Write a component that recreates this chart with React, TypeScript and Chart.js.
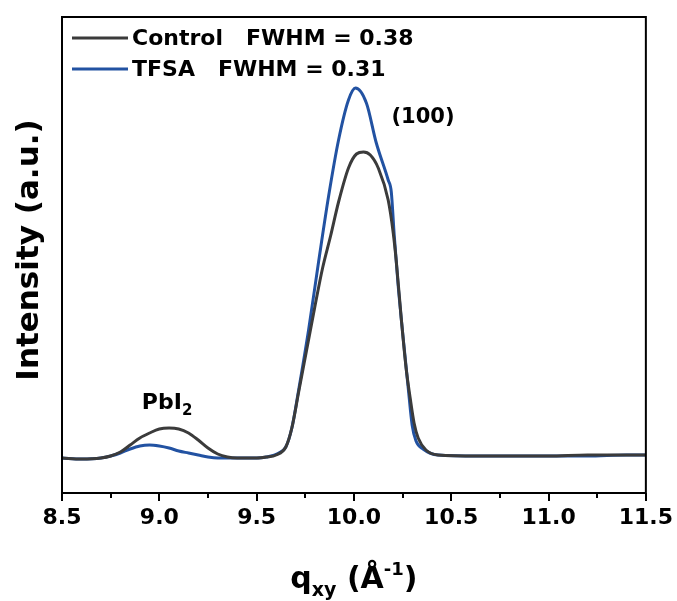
import React, { useEffect, useRef } from 'react';
import { Chart, registerables } from 'chart.js';

Chart.register(...registerables);

// ---- data ----
const controlQ = [8.5, 8.6, 8.7, 8.75, 8.8, 8.85, 8.9, 8.95, 9.0, 9.05, 9.1, 9.15, 9.2, 9.25, 9.3, 9.35, 9.4, 9.5, 9.55, 9.6, 9.65, 9.681, 9.716, 9.757, 9.798, 9.839, 9.88, 9.921, 9.972, 10.013, 10.049, 10.084, 10.125, 10.176, 10.202, 10.217, 10.243, 10.268, 10.289, 10.309, 10.33, 10.37, 10.432, 10.636, 10.8, 11.0, 11.2, 11.4, 11.5];
const controlI = [35, 34, 35, 37, 41, 48, 55, 60, 64, 65, 64, 60, 53, 45, 39, 36, 35, 35, 36, 38, 46, 65, 101, 143, 185, 225, 257, 291, 325, 339, 341, 338, 325, 293, 260, 233, 175, 125, 95, 70, 55, 43, 38, 37, 37, 37, 38, 38, 38];

const tfsaQ = [8.5, 8.6, 8.7, 8.75, 8.8, 8.85, 8.9, 8.95, 9.0, 9.05, 9.1, 9.15, 9.2, 9.25, 9.3, 9.4, 9.5, 9.55, 9.614, 9.65, 9.681, 9.716, 9.767, 9.819, 9.87, 9.921, 9.972, 10.008, 10.064, 10.115, 10.176, 10.192, 10.207, 10.227, 10.253, 10.279, 10.299, 10.319, 10.355, 10.432, 10.636, 10.8, 11.0, 11.2, 11.4, 11.5];
const tfsaI = [35, 34, 35, 37, 40, 44, 47, 48, 47, 45, 42, 40, 38, 36, 35, 35, 35, 36, 40, 46, 65, 103, 163, 232, 297, 353, 393, 405, 390, 350, 313, 301, 258, 208, 155, 105, 68, 52, 44, 38, 37, 37, 37, 37, 38, 38];

const seriesNames = ['Control   FWHM = 0.38', 'TFSA   FWHM = 0.31'];
const seriesColors = ['#3b3b3b', '#2252a2'];
const minorTicks = [8.75, 9.25, 9.75, 10.25, 10.75, 11.25];
const xMin = 8.5;
const xMax = 11.5;
const yMin = 0;
const yMax = 476;

const FONT = '"DejaVu Sans", sans-serif';

const decor = {
  id: 'decor',
  afterDraw(chart: any) {
    const { ctx, chartArea: a, scales } = chart;
    const xs = scales.x;
    const ys = scales.y;
    ctx.save();
    // frame
    ctx.strokeStyle = '#000';
    ctx.lineWidth = 2;
    ctx.strokeRect(a.left, a.top, a.right - a.left, a.bottom - a.top);
    // minor ticks
    ctx.lineWidth = 2;
    for (const v of minorTicks) {
      const px = Math.round(xs.getPixelForValue(v));
      ctx.beginPath();
      ctx.moveTo(px, a.bottom);
      ctx.lineTo(px, a.bottom + 5);
      ctx.stroke();
    }
    // legend
    ctx.font = `bold 22px ${FONT}`;
    ctx.textBaseline = 'middle';
    ctx.textAlign = 'left';
    seriesNames.forEach((name, i) => {
      const y = a.top + 21 + i * 31;
      ctx.strokeStyle = seriesColors[i];
      ctx.lineWidth = 3;
      ctx.beginPath();
      ctx.moveTo(a.left + 10, y);
      ctx.lineTo(a.left + 66, y);
      ctx.stroke();
      ctx.fillStyle = '#000';
      ctx.fillText(name, a.left + 70, y + 1);
    });
    // annotations
    ctx.fillStyle = '#000';
    ctx.textAlign = 'center';
    ctx.font = `bold 21px ${FONT}`;
    ctx.fillText('(100)', xs.getPixelForValue(10.355), ys.getPixelForValue(375));
    // PbI2
    {
      const cx = xs.getPixelForValue(9.04);
      const cy = ys.getPixelForValue(90);
      ctx.font = `bold 22px ${FONT}`;
      const w1 = ctx.measureText('PbI').width;
      ctx.font = `bold 15px ${FONT}`;
      const w2 = ctx.measureText('2').width;
      const x0 = cx - (w1 + w2) / 2;
      ctx.textAlign = 'left';
      ctx.font = `bold 22px ${FONT}`;
      ctx.fillText('PbI', x0, cy);
      ctx.font = `bold 15px ${FONT}`;
      ctx.fillText('2', x0 + w1, cy + 8);
    }
    // y title
    ctx.save();
    ctx.translate(30, 250);
    ctx.rotate(-Math.PI / 2);
    ctx.textAlign = 'center';
    ctx.textBaseline = 'middle';
    ctx.font = `bold 31px ${FONT}`;
    ctx.fillText('Intensity (a.u.)', 0, 0);
    ctx.restore();
    // x title
    const parts = [
      { t: 'q', s: 30, dy: 0 },
      { t: 'xy', s: 19, dy: 8 },
      { t: ' (Å', s: 30, dy: 0 },
      { t: '-1', s: 18, dy: -13 },
      { t: ')', s: 30, dy: 0 },
    ];
    let total = 0;
    const widths = parts.map((p) => {
      ctx.font = `bold ${p.s}px ${FONT}`;
      const w = ctx.measureText(p.t).width;
      total += w;
      return w;
    });
    let x = (a.left + a.right) / 2 - total / 2;
    const base = 588;
    ctx.textAlign = 'left';
    ctx.textBaseline = 'alphabetic';
    parts.forEach((p, i) => {
      ctx.font = `bold ${p.s}px ${FONT}`;
      ctx.fillText(p.t, x, base + p.dy);
      x += widths[i];
    });
    ctx.restore();
  },
};

export default function App() {
  const ref = useRef<HTMLCanvasElement | null>(null);
  useEffect(() => {
    document.body.style.margin = '0';
    const canvas = ref.current;
    if (!canvas) return;
    const chart = new Chart(canvas, {
      type: 'line',
      data: {
        datasets: [
          {
            label: seriesNames[0],
            data: controlQ.map((q, i) => ({ x: q, y: controlI[i] })),
            borderColor: seriesColors[0],
            borderWidth: 3,
            pointRadius: 0,
            cubicInterpolationMode: 'monotone',
            fill: false,
          },
          {
            label: seriesNames[1],
            data: tfsaQ.map((q, i) => ({ x: q, y: tfsaI[i] })),
            borderColor: seriesColors[1],
            borderWidth: 3,
            pointRadius: 0,
            cubicInterpolationMode: 'monotone',
            fill: false,
          },
        ],
      },
      options: {
        responsive: false,
        animation: false,
        devicePixelRatio: 1,
        layout: { padding: { left: 62, right: 28, top: 17, bottom: 0 } },
        plugins: { legend: { display: false }, tooltip: { enabled: false } },
        scales: {
          x: {
            type: 'linear',
            min: xMin,
            max: xMax,
            afterFit: (scale: any) => {
              scale.height = 108;
            },
            ticks: {
              stepSize: 0.5,
              color: '#000',
              padding: 4,
              font: { family: FONT, size: 22, weight: 'bold' },
              callback: (v: any) => Number(v).toFixed(1),
              maxRotation: 0,
            },
            grid: {
              drawOnChartArea: false,
              drawTicks: true,
              tickLength: 8,
              color: '#000',
              lineWidth: 2,
            },
            border: { display: false },
          },
          y: {
            display: false,
            min: yMin,
            max: yMax,
          },
        },
      },
      plugins: [decor],
    } as any);
    return () => chart.destroy();
  }, []);
  return (
    <div style={{ width: 677, height: 601 }}>
      <canvas ref={ref} width={677} height={601} style={{ display: 'block' }} />
    </div>
  );
}
